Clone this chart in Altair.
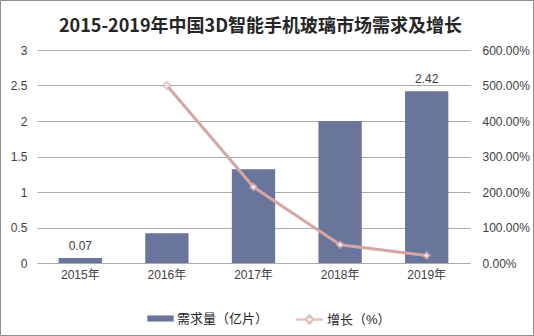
import altair as alt
import pandas as pd

years = ["2015年", "2016年", "2017年", "2018年", "2019年"]
demand = [0.07, 0.42, 1.32, 2.0, 2.42]
growth = [None, 5.0, 2.14, 0.515, 0.21]
labels = ["0.07", "", "", "", "2.42"]
left_ticks = [0, 0.5, 1, 1.5, 2, 2.5, 3]
right_ticks = [0, 1, 2, 3, 4, 5, 6]

bar_name = "需求量（亿片）"
line_name = "增长（%）"

df = pd.DataFrame({"year": years, "demand": demand, "growth": growth, "label": labels})
df["s_bar"] = bar_name
df["s_line"] = line_name

FONT = "Liberation Sans, Arial, 'Noto Sans CJK SC', sans-serif"
BAR_C = "#69759A"
LINE_C = "#D6A6A6"
GRID_C = "#ABABAB"
W, H = 433, 213

x = alt.X("year:N", sort=years, title=None,
          scale=alt.Scale(paddingInner=0.5, paddingOuter=0.25),
          axis=alt.Axis(labelAngle=0, labelFontSize=12, labelColor="#404040", labelFont=FONT,
                        domainColor=GRID_C, ticks=False, labelPadding=6))

yl = alt.Y("demand:Q", title=None,
           scale=alt.Scale(domain=[0, 3]),
           axis=alt.Axis(values=left_ticks, format="~g", labelOverlap=False,
                         labelFontSize=12, labelColor="#404040", labelFont=FONT,
                         domain=False, ticks=False, gridColor=GRID_C, labelPadding=10))

base = alt.Chart(df)

bars = base.mark_bar(color=BAR_C).encode(
    x=x,
    y=yl,
    color=alt.Color("s_bar:N", title=None,
                    scale=alt.Scale(domain=[bar_name], range=[BAR_C]),
                    legend=alt.Legend(orient="none", legendX=110, legendY=255,
                                      symbolType="M-1,-0.23H1V0.23H-1Z", symbolSize=700,
                                      symbolStrokeWidth=0, labelFontSize=13, labelFont=FONT,
                                      labelColor="#262626", labelOffset=3)),
)

text = base.transform_filter(alt.datum.label != "").mark_text(
    dy=-12, fontSize=12, font=FONT, color="#404040"
).encode(x=x, y=yl, text="label:N")

left = alt.layer(bars, text)

yr = alt.Y("growth:Q", title=None,
           scale=alt.Scale(domain=[0, 6]),
           axis=alt.Axis(orient="right", values=right_ticks, format=".2%",
                         labelOverlap=False,
                         labelFontSize=12, labelColor="#404040", labelFont=FONT,
                         domain=False, ticks=False, grid=False, labelPadding=12))

line = base.transform_filter("isValid(datum.growth)").mark_line(
    strokeWidth=3, color=LINE_C
).encode(x=x, y=yr)

pts = base.transform_filter("isValid(datum.growth)").mark_point(
    shape="diamond", size=55, filled=True, fill="white", strokeWidth=1.5
).encode(
    x=x, y=yr,
    stroke=alt.Stroke("s_line:N", title=None,
                      scale=alt.Scale(domain=[line_name], range=[LINE_C]),
                      legend=alt.Legend(orient="none", legendX=258, legendY=255,
                                        symbolType="M-1,0L-0.3,0M0.3,0L1,0M-0.3,0L0,-0.3L0.3,0L0,0.3Z",
                                        symbolSize=700, symbolStrokeWidth=2.5,
                                        symbolFillColor="white",
                                        labelFontSize=13, labelFont=FONT,
                                        labelColor="#262626", labelOffset=3)),
)

right = alt.layer(line, pts)

border = alt.Chart(pd.DataFrame({"a": [0]})).mark_rect(
    fill=None, stroke="#8C8C8C", strokeWidth=1
).encode(x=alt.value(-36.5), x2=alt.value(W + 63.5), y=alt.value(-49.5), y2=alt.value(H + 72.5))

chart = alt.layer(left, right, border).resolve_scale(
    y="independent", color="independent"
).properties(
    width=W, height=H,
    autosize=alt.AutoSizeParams(type="none"),
    padding={"left": 37, "top": 50, "right": 64, "bottom": 73},
    background="white",
    title=alt.TitleParams("2015-2019年中国3D智能手机玻璃市场需求及增长",
                          fontSize=18, font="'Noto Sans CJK SC', sans-serif", fontWeight="bold",
                          color="#262626", offset=-54, anchor="middle", dx=7,
                          baseline="bottom"),
).configure_view(stroke=None)

chart.save("out.html", embed_options={"renderer": "svg", "actions": False})
